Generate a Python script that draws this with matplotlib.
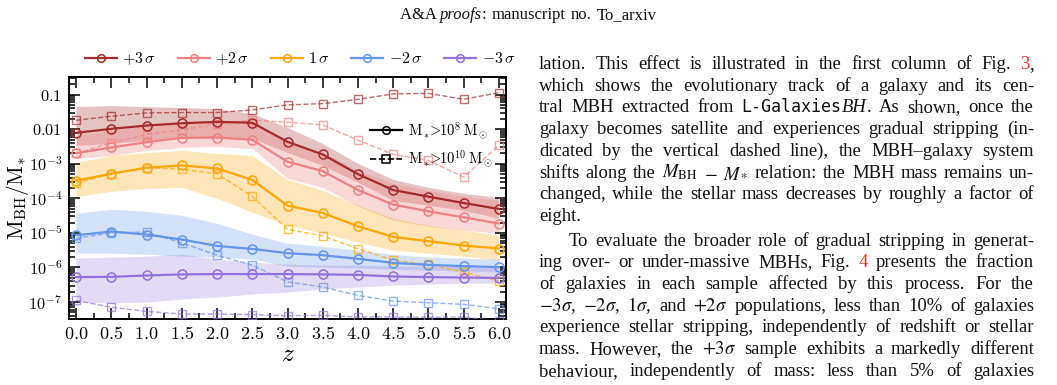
import numpy as np
import matplotlib
matplotlib.use('Agg')
import matplotlib.pyplot as plt
from matplotlib.lines import Line2D
from matplotlib.ticker import FixedLocator, FuncFormatter, LogLocator, MultipleLocator, NullFormatter

plt.rcParams['mathtext.fontset'] = 'cm'
plt.rcParams['font.family'] = 'serif'
plt.rcParams['font.serif'] = ['Liberation Serif', 'DejaVu Serif']

# ── data: log10(M_BH / M_*) medians and 16-84 bands ──────────────────────────
REDSHIFT = [0.0, 0.5, 1.0, 1.5, 2.0, 2.5, 3.0, 3.5, 4.0, 4.5, 5.0, 5.5, 6.0]

P3_LOW  = [-2.105, -1.989, -1.894, -1.828, -1.787, -1.813, -2.364, -2.731, -3.299, -3.760, -3.951, -4.135, -4.308]
P3_HIGH = [-1.741, -1.626, -1.528, -1.519, -1.519, -1.441, -1.297, -1.260, -1.136, -0.980, -0.962, -1.136, -0.942]
P3_UP   = [-1.346, -1.317, -1.346, -1.375, -1.404, -1.548, -1.952, -2.413, -2.990, -3.452, -3.683, -3.856, -3.971]
P3_DN   = [-2.471, -2.413, -2.327, -2.269, -2.240, -2.269, -2.673, -3.048, -3.538, -4.057, -4.202, -4.346, -4.577]

P2_LOW  = [-2.693, -2.529, -2.376, -2.249, -2.240, -2.307, -2.941, -3.212, -3.760, -4.181, -4.375, -4.548, -4.729]
P2_HIGH = [-2.700, -2.393, -2.154, -2.018, -1.845, -1.735, -1.799, -1.874, -2.318, -2.731, -2.904, -3.385, -2.471]
P2_UP   = [-2.183, -2.038, -1.894, -1.808, -1.779, -1.836, -2.384, -2.673, -3.192, -3.567, -3.769, -3.942, -4.057]
P2_DN   = [-2.846, -2.759, -2.615, -2.529, -2.500, -2.558, -3.423, -3.682, -4.230, -4.634, -4.807, -4.923, -5.009]

P1_LOW  = [-3.489, -3.287, -3.114, -3.048, -3.134, -3.466, -4.210, -4.424, -4.807, -5.116, -5.240, -5.364, -5.451]
P1_HIGH = [-3.567, -3.287, -3.114, -3.155, -3.287, -3.942, -4.894, -5.087, -5.462, -5.788, -5.913, -6.134, -6.394]
P1_UP   = [-2.961, -2.759, -2.673, -2.615, -2.702, -2.759, -3.452, -3.769, -4.202, -4.577, -4.778, -4.923, -5.067]
P1_DN   = [-3.942, -3.798, -3.711, -3.682, -4.000, -4.403, -4.778, -5.009, -5.269, -5.500, -5.586, -5.673, -5.788]

M2_LOW  = [-5.067, -4.960, -5.047, -5.191, -5.376, -5.462, -5.586, -5.644, -5.750, -5.866, -5.924, -5.961, -5.990]
M2_HIGH = [-5.153, -5.000, -4.972, -5.289, -5.644, -5.932, -6.414, -6.567, -6.806, -6.971, -7.020, -7.066, -7.193]
M2_UP   = [-4.432, -4.317, -4.375, -4.490, -4.721, -5.038, -5.298, -5.384, -5.500, -5.615, -5.701, -5.730, -5.759]
M2_DN   = [-5.586, -5.586, -5.615, -5.673, -5.701, -5.759, -5.961, -5.990, -6.019, -6.048, -6.076, -6.105, -6.134]

M3_LOW  = [-6.278, -6.270, -6.230, -6.200, -6.190, -6.190, -6.190, -6.200, -6.213, -6.260, -6.278, -6.290, -6.300]
M3_HIGH = [-6.950, -7.152, -7.270, -7.345, -7.345, -7.364, -7.393, -7.384, -7.432, -7.432, -7.440, -7.432, -7.550]
M3_UP   = [-5.730, -5.701, -5.673, -5.615, -5.759, -5.846, -5.903, -5.932, -5.932, -5.961, -5.961, -5.961, -5.961]
M3_DN   = [-7.000, -7.028, -7.000, -6.913, -6.855, -6.769, -6.711, -6.624, -6.567, -6.509, -6.480, -6.451, -6.451]

SAMPLES = [
    (r'$+3\,\sigma$', 'brown',          P3_LOW, P3_HIGH, P3_UP, P3_DN, 0.28),
    (r'$+2\,\sigma$', 'lightcoral',     P2_LOW, P2_HIGH, P2_UP, P2_DN, 0.30),
    (r'$1\,\sigma$',  'orange',         P1_LOW, P1_HIGH, P1_UP, P1_DN, 0.28),
    (r'$-2\,\sigma$', 'cornflowerblue', M2_LOW, M2_HIGH, M2_UP, M2_DN, 0.28),
    (r'$-3\,\sigma$', 'mediumpurple',   M3_LOW, M3_HIGH, M3_UP, M3_DN, 0.25),
]

# ── page text (right column) ─────────────────────────────────────────────────
RED = '#e8342e'
PARA1 = [
    ['lation.', 'This', 'effect', 'is', 'illustrated', 'in', 'the', 'first', 'column', 'of', 'Fig.',
     [('3', {'color': RED}), (',', {})]],
    'which shows the evolutionary track of a galaxy and its cen-'.split(),
    ['tral', 'MBH', 'extracted', 'from',
     [('L-Galaxies', {'family': 'DejaVu Sans Mono', 'fontsize': 12}), ('BH', {'style': 'italic'}), ('.', {})],
     'As', 'shown,', 'once', 'the'],
    'galaxy becomes satellite and experiences gradual stripping (in-'.split(),
    'dicated by the vertical dashed line), the MBH\u2013galaxy system'.split(),
    ['shifts', 'along', 'the', r'$M_{\mathrm{BH}}$', r'$-$', r'$M_*$', 'relation:', 'the', 'MBH',
     'mass', 'remains', 'un-'],
    'changed, while the stellar mass decreases by roughly a factor of'.split(),
    ['eight.'],
]
PARA2 = [
    'To evaluate the broader role of gradual stripping in generat-'.split(),
    ['ing', 'over-', 'or', 'under-massive', 'MBHs,', 'Fig.', [('4', {'color': RED})], 'presents',
     'the', 'fraction'],
    'of galaxies in each sample affected by this process. For the'.split(),
    [r'$-3\sigma$,', r'$-2\sigma$,', r'$1\sigma$,', 'and', r'$+2\sigma$', 'populations,', 'less',
     'than', '10%', 'of', 'galaxies'],
    'experience stellar stripping, independently of redshift or stellar'.split(),
    ['mass.', 'However,', 'the', r'$+3\sigma$', 'sample', 'exhibits', 'a', 'markedly', 'different'],
    'behaviour, independently of mass: less than 5% of galaxies'.split(),
]
BODY = dict(fontsize=13.4, family='Liberation Serif', math_fontfamily='stix', color='#111111')


def put_line(fig, r, words, x0, x1, y, justify=True, center=None):
    """Place a list of words on one line; stretch the gaps to fill x0..x1."""
    W = fig.bbox.width
    groups, widths = [], []
    for word in words:
        segs = [(word, {})] if isinstance(word, str) else word
        grp, w = [], 0.0
        for s, kw in segs:
            t = fig.text(0, y, s, va='baseline', ha='left', **{**BODY, **kw})
            tw = t.get_window_extent(renderer=r).width
            grp.append((t, tw))
            w += tw
        groups.append(grp)
        widths.append(w)
    space = 0.27 * BODY['fontsize'] * fig.dpi / 72
    if justify and len(words) > 1:
        gap = ((x1 - x0) * W - sum(widths)) / (len(words) - 1)
    else:
        gap = space
    x = x0 * W
    if center is not None:
        x = center * W - (sum(widths) + gap * (len(words) - 1)) / 2
    for grp, w in zip(groups, widths):
        xx = x
        for t, tw in grp:
            t.set_x(xx / W)
            xx += tw
        x += w + gap


def y_tick_label(v, pos):
    e = int(round(np.log10(v)))
    if e == -1:
        return r'$0.1$'
    if e == -2:
        return r'$0.01$'
    return r'$10^{%d}$' % e


fig = plt.figure(figsize=(10.57, 3.85), dpi=100)
ax = fig.add_axes([0.0653, 0.1714, 0.4134, 0.6286])

z = np.array(REDSHIFT)
for label, col, low, high, up, dn, alpha in SAMPLES:
    ax.fill_between(z, 10 ** np.array(dn), 10 ** np.array(up), color=col, alpha=alpha, lw=0, zorder=1)
for label, col, low, high, up, dn, alpha in SAMPLES:
    ax.plot(z, 10 ** np.array(high), ls='--', lw=1.0, color=col, alpha=0.7, marker='s', ms=6,
            mfc='none', mew=1.0, zorder=3)
    ax.plot(z, 10 ** np.array(low), ls='-', lw=1.6, color=col, marker='o', ms=6.5,
            mfc='none', mew=1.1, zorder=4)

ax.set_yscale('log')
ax.set_xlim(-0.1, 6.1)
ax.set_ylim(10 ** -7.49, 10 ** -0.49)
ax.xaxis.set_major_locator(MultipleLocator(0.5))
ax.xaxis.set_minor_locator(MultipleLocator(0.25))
ax.xaxis.set_major_formatter(FuncFormatter(lambda v, p: r'$%.1f$' % v))
ax.yaxis.set_major_locator(FixedLocator([10.0 ** e for e in range(-7, 0)]))
ax.yaxis.set_minor_locator(LogLocator(base=10, subs=np.arange(2, 10), numticks=20))
ax.yaxis.set_major_formatter(FuncFormatter(y_tick_label))
ax.yaxis.set_minor_formatter(NullFormatter())
ax.tick_params(which='both', direction='in', top=True, right=True, labelsize=13, width=1.1)
ax.tick_params(axis='y', labelsize=11.8)
ax.tick_params(which='major', length=8, pad=5)
ax.tick_params(which='minor', length=4)
for sp in ax.spines.values():
    sp.set_linewidth(1.4)

ax.set_xlabel(r'$z$', fontsize=18, labelpad=1)
ax.set_ylabel(r'$\mathrm{M_{BH}/M_{*}}$', fontsize=15.5)
ax.yaxis.set_label_coords(-0.088, 0.5)

# legends
top_handles = [Line2D([], [], color=s[1], lw=1.6, marker='o', ms=5.5, mfc='none', mew=1.1) for s in SAMPLES]
fig.legend(top_handles, [s[0] for s in SAMPLES], loc='center', bbox_to_anchor=(0.284, 0.847),
           ncol=5, frameon=False, fontsize=11.5, handlelength=2.0, handletextpad=0.35,
           columnspacing=1.35, borderaxespad=0, borderpad=0)

mass_handles = [
    Line2D([], [], color='black', lw=1.6, ls='-', marker='o', ms=5.5, mfc='none', mew=1.1),
    Line2D([], [], color='black', lw=1.2, ls='--', marker='s', ms=5.5, mfc='none', mew=1.1),
]
ax.legend(mass_handles, [r'$\mathrm{M_*\!\!>\!\!10^{8}\,M_\odot}$', r'$\mathrm{M_*\!\!>\!\!10^{10}\,M_\odot}$'],
          loc='upper right', bbox_to_anchor=(1.0, 0.875), frameon=False, fontsize=10.5,
          handlelength=2.2, handletextpad=0.35, labelspacing=0.55)

# page header and text column
r = fig.canvas.get_renderer()
put_line(fig, r, [[('A&A ', {'fontsize': 12}), ('proofs', {'style': 'italic', 'fontsize': 12}),
                   (':', {'fontsize': 12})],
                  [('manuscript', {'fontsize': 12})], [('no.', {'fontsize': 12})],
                  [('To_arxiv', {'fontsize': 12})]],
         0, 1, 1 - 19 / 385, justify=False, center=528 / 1057)

W, H = 1057.0, 385.0
x_left, x_right = 539 / W, 1034 / W
base = 69.0
step = 21.7
for i, words in enumerate(PARA1):
    last = i == len(PARA1) - 1
    put_line(fig, r, words, x_left, x_right, 1 - (base + i * step) / H, justify=not last)
base2 = 245.7
for i, words in enumerate(PARA2):
    x0 = 569 / W if i == 0 else x_left
    put_line(fig, r, words, x0, x_right, 1 - (base2 + i * step) / H, justify=True)

fig.savefig('out.png', dpi=100)
